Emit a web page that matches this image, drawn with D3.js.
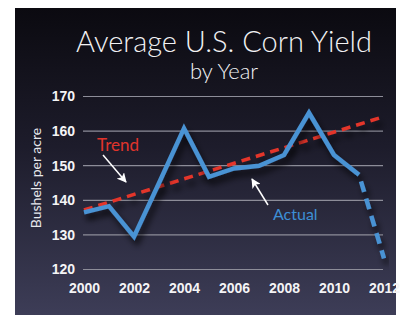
<!DOCTYPE html>
<html>
<head>
<meta charset="utf-8">
<script src="https://cdn.jsdelivr.net/npm/d3@7"></script>
<style>
  html, body { margin: 0; padding: 0; background: #fff; }
  #chart { width: 400px; height: 315px; }
</style>
</head>
<body>
<div id="chart"></div>
<script>
// data
var years = [2000, 2001, 2002, 2003, 2004, 2005, 2006, 2007, 2008, 2009, 2010, 2011];
var actual = [136.5, 138.3, 129.5, 145, 160.8, 146.8, 149.2, 150, 153.1, 165.3, 153.1, 147.4];
var projYears = [2011, 2012];
var projected = [147.4, 123.2];
var trendYears = [2000, 2012];
var trend = [137.2, 164.2];
var xTicks = [2000, 2002, 2004, 2006, 2008, 2010, 2012];
var yTicks = [120, 130, 140, 150, 160, 170];

var svg = d3.select('#chart')
    .append('svg')
        .attr('width', 400)
        .attr('height', 315);

var defs = svg.append('defs');

// panel bg
var grad = defs.append('linearGradient')
    .attr('id', 'bg')
    .attr('x1', 0).attr('y1', 0)
    .attr('x2', 0).attr('y2', 1);
grad.append('stop').attr('offset', '0%').attr('stop-color', '#0b0a10');
grad.append('stop').attr('offset', '45%').attr('stop-color', '#1d1c2b');
grad.append('stop').attr('offset', '100%').attr('stop-color', '#3d3d57');

var shadow = defs.append('filter')
    .attr('id', 'shadow')
    .attr('x', '-10%').attr('y', '-10%')
    .attr('width', '130%').attr('height', '140%');
shadow.append('feDropShadow')
    .attr('dx', 3)
    .attr('dy', 6)
    .attr('stdDeviation', 3)
    .attr('flood-color', '#000')
    .attr('flood-opacity', 0.7);

svg.append('rect')
    .attr('x', 15)
    .attr('y', 8)
    .attr('width', 381)
    .attr('height', 307)
    .attr('fill', 'url(#bg)');

// scales
var x = d3.scaleLinear()
    .domain([2000, 2012])
    .range([84, 384]);
var y = d3.scaleLinear()
    .domain([120, 170])
    .range([269.5, 96.5]);

// title
svg.append('text')
    .attr('x', 224)
    .attr('y', 52)
    .attr('text-anchor', 'middle')
    .style('font-family', 'Lato, "Open Sans", sans-serif')
    .style('font-weight', 300)
    .style('font-size', '29px')
    .style('fill', '#f2f2f4')
    .text('Average U.S. Corn Yield');
svg.append('text')
    .attr('x', 224)
    .attr('y', 79)
    .attr('text-anchor', 'middle')
    .style('font-family', 'Lato, "Open Sans", sans-serif')
    .style('font-weight', 300)
    .style('font-size', '22px')
    .style('fill', '#f2f2f4')
    .text('by Year');

// grid
svg.append('g')
    .selectAll('line')
    .data(yTicks)
    .enter()
    .append('line')
        .attr('x1', 83)
        .attr('x2', 383)
        .attr('y1', function(d) { return y(d); })
        .attr('y2', function(d) { return y(d); })
        .attr('stroke', '#8d8d99')
        .attr('stroke-width', 1.2);

// axes
var yAxis = svg.append('g')
    .attr('transform', 'translate(75,0)')
    .call(d3.axisLeft(y).tickValues(yTicks).tickSize(0).tickPadding(0));
var xAxis = svg.append('g')
    .attr('transform', 'translate(0,280)')
    .call(d3.axisBottom(x).tickValues(xTicks).tickSize(0).tickPadding(0).tickFormat(d3.format('d')));
[yAxis, xAxis].forEach(function(a) {
  a.select('.domain').remove();
  a.selectAll('text')
      .style('font-family', '"Liberation Sans", Arial, sans-serif')
      .style('font-weight', 'bold')
      .style('font-size', '14px')
      .style('fill', '#f4f4f6');
});
xAxis.selectAll('text').attr('dy', '0.95em');

// y label
svg.append('text')
    .attr('transform', 'translate(41,178) rotate(-90)')
    .attr('text-anchor', 'middle')
    .style('font-family', 'Lato, "Open Sans", sans-serif')
    .style('font-size', '14px')
    .style('fill', '#e8e8ec')
    .text('Bushels per acre');

var line = d3.line()
    .x(function(d) { return x(d[0]); })
    .y(function(d) { return y(d[1]); });

// trend
svg.append('path')
    .datum(d3.zip(trendYears, trend))
    .attr('d', line)
    .attr('fill', 'none')
    .attr('stroke', '#e4352a')
    .attr('stroke-width', 3.5)
    .attr('stroke-dasharray', '9 6')
    .attr('filter', 'url(#shadow)');

// actual
svg.append('path')
    .datum(d3.zip(years, actual))
    .attr('d', line)
    .attr('fill', 'none')
    .attr('stroke', '#4a93d4')
    .attr('stroke-width', 4.5)
    .attr('stroke-linejoin', 'miter')
    .attr('filter', 'url(#shadow)');

// projection
svg.append('path')
    .datum(d3.zip(projYears, projected))
    .attr('d', line)
    .attr('fill', 'none')
    .attr('stroke', '#4a93d4')
    .attr('stroke-width', 4.5)
    .attr('stroke-dasharray', '11 7')
    .attr('stroke-dashoffset', 11)
    .attr('filter', 'url(#shadow)');

// labels + arrows
defs.append('marker')
    .attr('id', 'arrow')
    .attr('viewBox', '0 0 10 10')
    .attr('refX', 9)
    .attr('refY', 5)
    .attr('markerWidth', 6.5)
    .attr('markerHeight', 6.5)
    .attr('orient', 'auto')
    .append('path')
        .attr('d', 'M0,0L10,5L0,10L2.5,5z')
        .attr('fill', '#fff');

svg.append('text')
    .attr('x', 97)
    .attr('y', 151)
    .style('font-family', 'Lato, "Open Sans", sans-serif')
    .style('font-size', '17px')
    .style('fill', '#e0342b')
    .text('Trend');
svg.append('line')
    .attr('x1', 103).attr('y1', 155)
    .attr('x2', 126).attr('y2', 182)
    .attr('stroke', '#fff')
    .attr('stroke-width', 1.5)
    .attr('marker-end', 'url(#arrow)');

svg.append('text')
    .attr('x', 273)
    .attr('y', 220)
    .style('font-family', 'Lato, "Open Sans", sans-serif')
    .style('font-size', '16px')
    .style('fill', '#3d8fd6')
    .text('Actual');
svg.append('line')
    .attr('x1', 268).attr('y1', 205)
    .attr('x2', 252).attr('y2', 179)
    .attr('stroke', '#fff')
    .attr('stroke-width', 1.5)
    .attr('marker-end', 'url(#arrow)');
</script>
</body>
</html>
